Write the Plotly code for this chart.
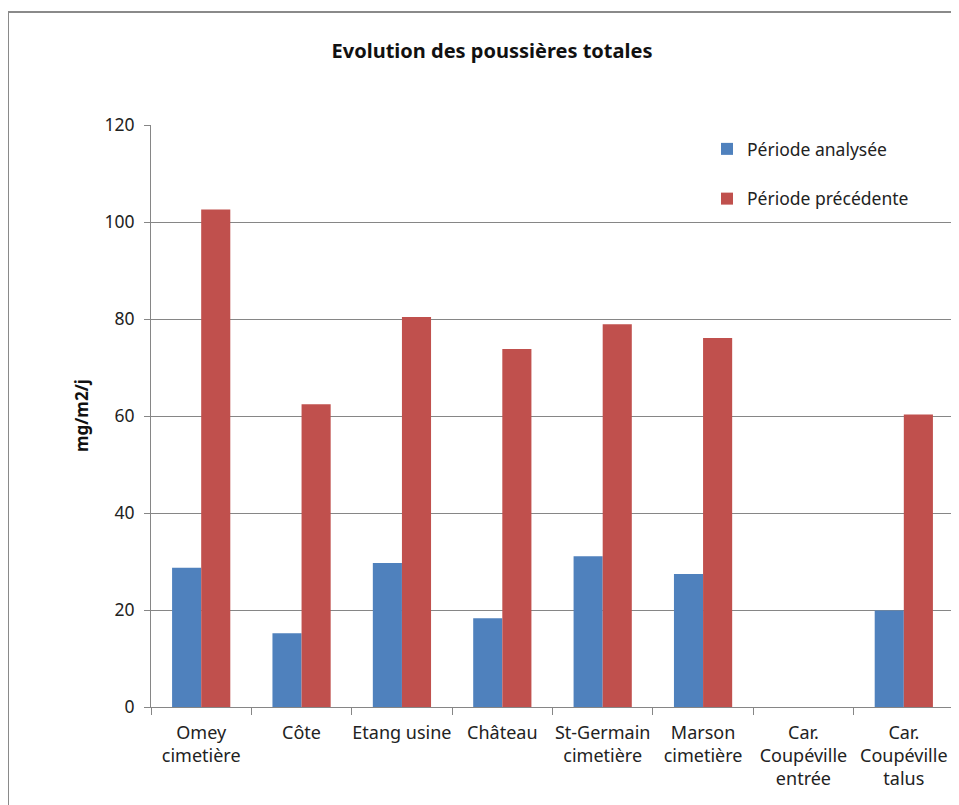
import plotly.graph_objects as go

categories = ["Omey<br>cimetière", "Côte", "Etang usine", "Château", "St-Germain<br>cimetière",
              "Marson<br>cimetière", "Car.<br>Coupéville<br>entrée", "Car.<br>Coupéville<br>talus"]
periode_analysee = [28.7, 15.2, 29.7, 18.3, 31.1, 27.4, None, 19.9]
periode_precedente = [102.6, 62.4, 80.4, 73.8, 78.9, 76.1, None, 60.3]
y_ticks = [0, 20, 40, 60, 80, 100, 120]

FONT = "Noto Sans"

fig = go.Figure()
fig.add_trace(go.Bar(x=categories, y=periode_analysee, name="Période analysée",
                     marker=dict(color="#4F81BD", line=dict(width=0)), legendgroup="a"))
fig.add_trace(go.Bar(x=categories, y=periode_precedente, name="Période précédente",
                     marker=dict(color="#C0504D", line=dict(width=0)), legendgroup="b"))

W, H = 959, 805
OFF = 7  # page offset observed in rendering
L, T = 150 - OFF, 124 - OFF
R = W - (953 - OFF)
B = H - (706 - OFF)
pw, ph = W - L - R, H - T - B

def px_to_paper_x(px):
    return (px - OFF - L) / pw

def px_to_paper_y(py):
    return 1 - (py - OFF - T) / ph

border = dict(color="#8a8a8a", width=2)

fig.update_layout(
    width=W, height=H,
    margin=dict(l=L, r=R, t=T, b=B),
    paper_bgcolor="white", plot_bgcolor="white",
    font=dict(family=FONT, size=17, color="#222222"),
    barmode="group", bargap=0.42, bargroupgap=0,
    title=dict(text="<b>Evolution des poussières totales</b>", xref="container", yref="container",
               x=(491 - OFF) / W, y=1 - (50 - OFF) / H, xanchor="center", yanchor="middle",
               font=dict(family=FONT, size=20, color="#111111")),
    showlegend=True,
    legend=dict(x=px_to_paper_x(706), y=px_to_paper_y(130), xanchor="left", yanchor="top",
                bgcolor="rgba(0,0,0,0)", font=dict(family=FONT, size=17.5, color="#222222"),
                traceorder="grouped", tracegroupgap=24, itemwidth=30),
    xaxis=dict(showline=True, linecolor="#868686", linewidth=1, ticks="outside",
               tickson="boundaries", ticklen=7, tickcolor="#868686",
               showgrid=False, tickangle=0, ticklabelstandoff=9,
               tickfont=dict(family=FONT, size=18, color="#222222")),
    yaxis=dict(range=[0, 120], tickvals=y_ticks, showline=True, linecolor="#868686",
               linewidth=1, ticks="outside", ticklen=6, tickcolor="#868686",
               showgrid=True, gridcolor="#868686", gridwidth=1, zeroline=False,
               ticklabelstandoff=6,
               tickfont=dict(family=FONT, size=17.5, color="#222222")),
    shapes=[
        dict(type="line", xref="paper", yref="paper",
             x0=px_to_paper_x(7), x1=px_to_paper_x(1200),
             y0=px_to_paper_y(11), y1=px_to_paper_y(11), line=border, layer="below"),
        dict(type="line", xref="paper", yref="paper",
             x0=px_to_paper_x(7), x1=px_to_paper_x(7),
             y0=px_to_paper_y(11), y1=px_to_paper_y(1000), line=border, layer="below"),
    ],
    annotations=[dict(text="<b>mg/m2/j</b>", xref="paper", yref="paper",
                      x=px_to_paper_x(80), y=px_to_paper_y(415), textangle=-90,
                      showarrow=False, xanchor="center", yanchor="middle",
                      font=dict(family=FONT, size=17, color="#111111"))],
)

fig.write_html("out.html")
